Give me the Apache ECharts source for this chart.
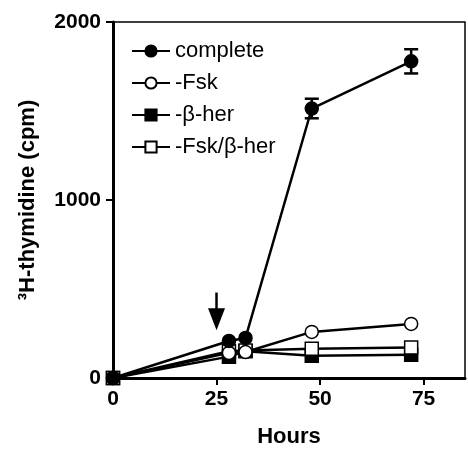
<!DOCTYPE html>
<html><head><meta charset="utf-8">
<script src="https://cdn.jsdelivr.net/npm/echarts@6/dist/echarts.min.js"></script>
<style>html,body{margin:0;padding:0;background:#fff}#c{width:468px;height:453px}</style>
</head><body><div id="c"></div>
<script>
const hours = [0, 28, 32, 48, 72];
const complete = [0, 208, 225, 1514, 1779];
const completeErr = [0, 0, 0, 55, 68];
const minusFsk = [0, 141, 146, 259, 304];
const minusBher = [0, 120, 150, 125, 130];
const minusFskBher = [0, 150, 155, 165, 172];
const seriesNames = ['complete', '-Fsk', '-\u03b2-her', '-Fsk/\u03b2-her'];
const xTicks = [0, 25, 50, 75];
const yTicks = [0, 1000, 2000];
const arrowX = 25, arrowFrom = 480, arrowTo = 330;

const pts = arr => hours.map((h, i) => [h, arr[i]]);
const font = 'Liberation Sans, Arial, sans-serif';
const chart = echarts.init(document.getElementById('c'));
const lineW = 2.5;
function mk(name, data, symbol, fill, z) {
  return {
    name, type: 'line', data: pts(data), symbol, symbolSize: 13, z,
    lineStyle: {color: '#000', width: lineW},
    itemStyle: {color: fill, borderColor: '#000', borderWidth: 1.5, opacity: 1},
    emphasis: {disabled: true}, animation: false
  };
}
const errData = hours.map((h, i) => [h, complete[i] - completeErr[i], complete[i] + completeErr[i]]).filter((d, i) => completeErr[i] > 0);
chart.setOption({
  animation: false,
  grid: {left: 113, right: 3, top: 22, bottom: 75, show: true, borderColor: '#000', borderWidth: 1.5},
  legend: {
    orient: 'vertical', left: 126, top: 35, itemWidth: 38, itemHeight: 14, itemGap: 10,
    textStyle: {fontFamily: font, fontSize: 22, color: '#000'},
    data: seriesNames
  },
  xAxis: {
    type: 'value', min: 0, max: 85, interval: 25,
    name: 'Hours', nameLocation: 'middle', nameGap: 48,
    nameTextStyle: {fontFamily: font, fontSize: 22, fontWeight: 'bold', color: '#000'},
    axisLine: {show: true, lineStyle: {color: '#000', width: 3}},
    axisTick: {show: true, length: 7, lineStyle: {color: '#000', width: 2}},
    axisLabel: {fontFamily: font, fontSize: 21, fontWeight: 'bold', color: '#000', margin: 11, showMaxLabel: false,
      formatter: v => xTicks.includes(v) ? String(v) : ''},
    splitLine: {show: false}
  },
  yAxis: {
    type: 'value', min: 0, max: 2000, interval: 1000,
    name: '\u00b3H-thymidine (cpm)', nameLocation: 'middle', nameGap: 74,
    nameTextStyle: {fontFamily: font, fontSize: 22, fontWeight: 'bold', color: '#000'},
    axisLine: {show: true, lineStyle: {color: '#000', width: 3}},
    axisTick: {show: true, length: 7, lineStyle: {color: '#000', width: 2}},
    axisLabel: {fontFamily: font, fontSize: 21, fontWeight: 'bold', color: '#000', margin: 12,
      formatter: v => yTicks.includes(v) ? String(v) : ''},
    splitLine: {show: false}
  },
  series: [
    Object.assign(mk(seriesNames[0], complete, 'circle', '#000', 10), {
      markLine: {
        silent: true, symbol: ['none', 'triangle'], symbolSize: [17, 22],
        label: {show: false}, lineStyle: {color: '#000', width: 2.5, type: 'solid'},
        data: [[{coord: [arrowX, arrowFrom]}, {coord: [arrowX, arrowTo]}]]
      }
    }),
    mk(seriesNames[1], minusFsk, 'circle', '#fff', 9),
    mk(seriesNames[2], minusBher, 'rect', '#000', 7),
    mk(seriesNames[3], minusFskBher, 'rect', '#fff', 8),
    {
      type: 'custom', data: errData, z: 11, silent: true,
      renderItem: (params, api) => {
        const x = api.value(0);
        const lo = api.coord([x, api.value(1)]);
        const hi = api.coord([x, api.value(2)]);
        const cw = 7;
        const st = {stroke: '#000', lineWidth: 2.5};
        return {type: 'group', children: [
          {type: 'line', shape: {x1: lo[0], y1: lo[1], x2: hi[0], y2: hi[1]}, style: st},
          {type: 'line', shape: {x1: lo[0] - cw, y1: lo[1], x2: lo[0] + cw, y2: lo[1]}, style: st},
          {type: 'line', shape: {x1: hi[0] - cw, y1: hi[1], x2: hi[0] + cw, y2: hi[1]}, style: st}
        ]};
      }
    }
  ]
});
</script></body></html>
